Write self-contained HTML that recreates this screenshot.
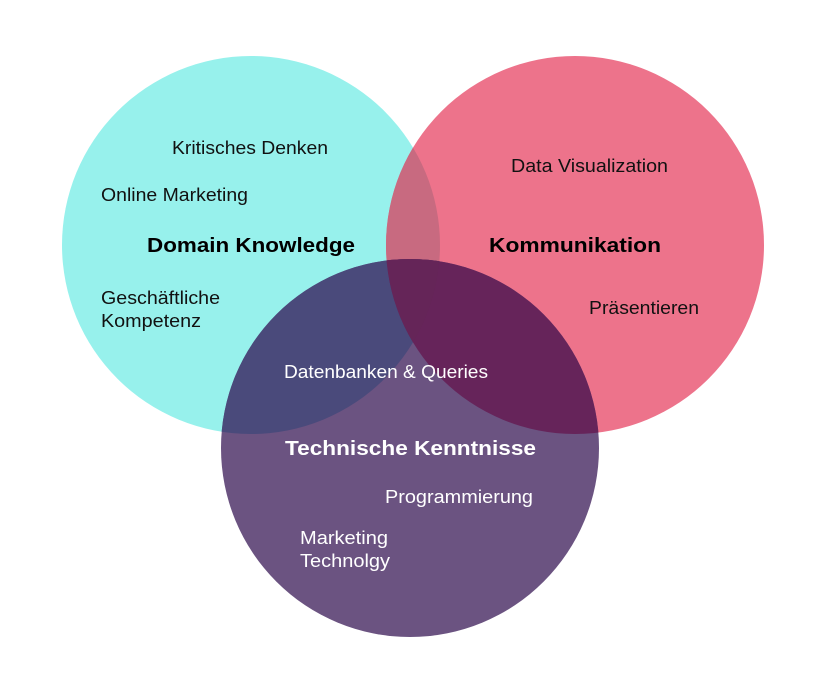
<!DOCTYPE html>
<html><head><meta charset="utf-8"><style>
html,body{margin:0;padding:0;background:#fff;}
svg text{font-family:"Liberation Sans",sans-serif;}
</style></head><body>
<svg width="834" height="682" viewBox="0 0 834 682" xmlns="http://www.w3.org/2000/svg">
<defs>
<clipPath id="L"><circle cx="251" cy="245" r="189"/></clipPath>
<clipPath id="R"><circle cx="575" cy="245" r="189"/></clipPath>
<clipPath id="B"><circle cx="410" cy="448" r="189"/></clipPath>
</defs>
<circle cx="251" cy="245" r="189" fill="#97f1ec"/>
<circle cx="575" cy="245" r="189" fill="#ed738b"/>
<circle cx="410" cy="448" r="189" fill="#6b5381"/>
<circle cx="575" cy="245" r="189" fill="#c86a80" clip-path="url(#L)"/>
<circle cx="410" cy="448" r="189" fill="#4a4a7b" clip-path="url(#L)"/>
<circle cx="410" cy="448" r="189" fill="#66245a" clip-path="url(#R)"/>
<g clip-path="url(#L)"><circle cx="410" cy="448" r="189" fill="#652558" clip-path="url(#R)"/></g>
<g font-size="18" fill="#111">
<text x="172" y="154" textLength="156" lengthAdjust="spacingAndGlyphs">Kritisches Denken</text>
<text x="101" y="201" textLength="147" lengthAdjust="spacingAndGlyphs">Online Marketing</text>
<text x="101" y="304" textLength="119" lengthAdjust="spacingAndGlyphs">Geschäftliche</text>
<text x="101" y="327" textLength="100" lengthAdjust="spacingAndGlyphs">Kompetenz</text>
<text x="511" y="172" textLength="157" lengthAdjust="spacingAndGlyphs">Data Visualization</text>
<text x="589" y="314" textLength="110" lengthAdjust="spacingAndGlyphs">Präsentieren</text>
</g>
<g font-size="20" font-weight="bold" fill="#000">
<text x="147" y="252" textLength="208" lengthAdjust="spacingAndGlyphs">Domain Knowledge</text>
<text x="489" y="252" textLength="172" lengthAdjust="spacingAndGlyphs">Kommunikation</text>
</g>
<g fill="#fff">
<text x="284" y="378" font-size="18" textLength="204" lengthAdjust="spacingAndGlyphs">Datenbanken &amp; Queries</text>
<text x="285" y="455" font-size="20" font-weight="bold" textLength="251" lengthAdjust="spacingAndGlyphs">Technische Kenntnisse</text>
<text x="385" y="503" font-size="18" textLength="148" lengthAdjust="spacingAndGlyphs">Programmierung</text>
<text x="300" y="544" font-size="18" textLength="88" lengthAdjust="spacingAndGlyphs">Marketing</text>
<text x="300" y="567" font-size="18" textLength="90" lengthAdjust="spacingAndGlyphs">Technolgy</text>
</g>
</svg>
</body></html>
